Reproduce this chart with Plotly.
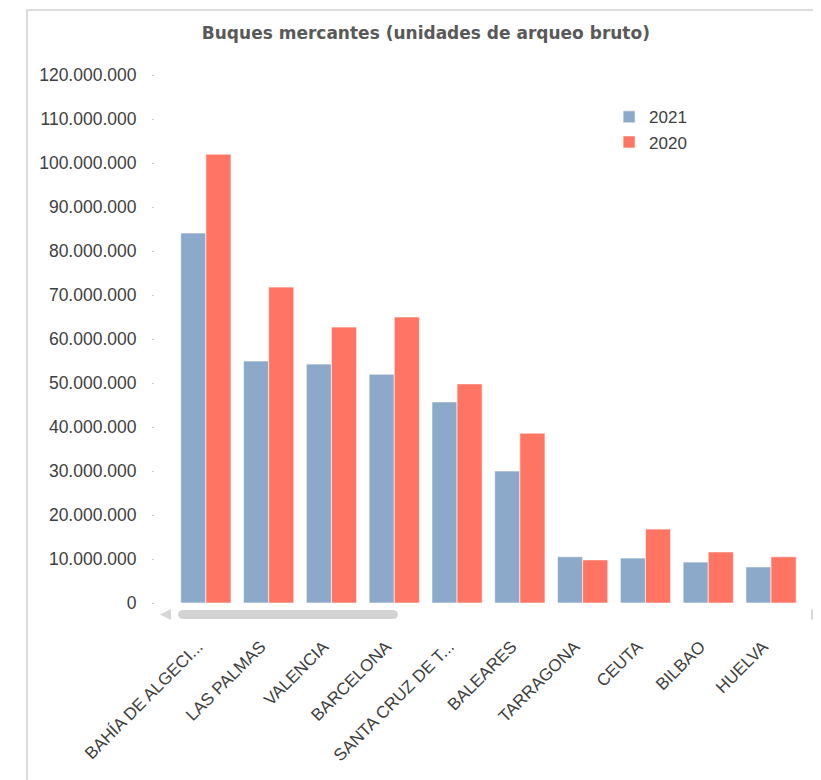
import plotly.graph_objects as go

# values (gross tonnage)
ports = [
    "BAHÍA DE ALGECI...", "LAS PALMAS", "VALENCIA", "BARCELONA",
    "SANTA CRUZ DE T...", "BALEARES", "TARRAGONA", "CEUTA", "BILBAO", "HUELVA",
]
gt_2021 = [84100000, 55000000, 54300000, 52000000, 45700000,
           30000000, 10500000, 10200000, 9300000, 8200000]
gt_2020 = [102000000, 71800000, 62700000, 65000000, 49800000,
           38600000, 9800000, 16800000, 11600000, 10500000]
y_ticks = list(range(0, 130000000, 10000000))

BLUE = "#8DA9CA"
RED = "#FF7462"
FONT = "Liberation Sans"

fig = go.Figure()

fig.add_trace(go.Bar(
    x=ports, y=gt_2021, name="2021",
    marker=dict(color=BLUE, line=dict(color="rgba(255,255,255,0.6)", width=1)),
))
fig.add_trace(go.Bar(
    x=ports, y=gt_2020, name="2020",
    marker=dict(color=RED, line=dict(color="rgba(255,255,255,0.6)", width=1)),
))


# decorations in pixels relative to the plot's bottom-left corner
def px_shape(path, fill=None, line=None):
    d = dict(type="path", xref="paper", yref="paper",
             xsizemode="pixel", ysizemode="pixel", xanchor=0, yanchor=0, path=path)
    if fill:
        d["fillcolor"] = fill
        d["line"] = dict(width=0)
    else:
        d["line"] = line
    return d


shapes = [
    # container frame
    px_shape("M -128,-200 L -128,593 L 700,593", line=dict(color="#dcdcdc", width=2)),
    # scrollbar thumb
    px_shape("M 27.5,-7 L 238.5,-7 C 244.5,-7 244.5,-16 238.5,-16 "
             "L 27.5,-16 C 21.5,-16 21.5,-7 27.5,-7 Z", fill="#d3d3d3"),
    # scrollbar arrows
    px_shape("M 5,-11.5 L 16,-6 L 16,-17 Z", fill="#d6d6d6"),
    px_shape("M 666,-11.5 L 656,-6 L 656,-17 Z", fill="#d6d6d6"),
]

fig.update_layout(
    width=813, height=772,
    margin=dict(l=147, r=6, t=67, b=177),
    paper_bgcolor="white", plot_bgcolor="white",
    separators=",.",
    barmode="group", bargap=0.2, bargroupgap=0,
    font=dict(family=FONT, size=16, color="#404040"),
    title=dict(text="Buques mercantes (unidades de arqueo bruto)",
               x=0.514, xanchor="center", y=0.9676, yanchor="middle",
               font=dict(family="DejaVu Sans", size=17, color="#595959", weight="bold")),
    legend=dict(x=0.688, y=0.954, xanchor="left", yanchor="top",
                bgcolor="rgba(0,0,0,0)", font=dict(size=17, color="#404040"),
                traceorder="normal"),
    shapes=shapes,
)

fig.update_xaxes(
    range=[-0.81, 9.7], showgrid=False, showline=False, zeroline=False,
    tickangle=-45, ticks="outside", ticklen=26, tickcolor="rgba(0,0,0,0)",
    ticklabelshift=-8,
    tickfont=dict(size=17, color="#404040"),
)
fig.update_yaxes(
    range=[0, 120000000], tickvals=y_ticks, tickformat=",d",
    showgrid=False, showline=False, zeroline=False,
    ticks="outside", ticklen=2, tickcolor="#cccccc", ticklabelstandoff=12,
    tickfont=dict(size=17.5, color="#404040"),
)

fig.write_html("out.html")
